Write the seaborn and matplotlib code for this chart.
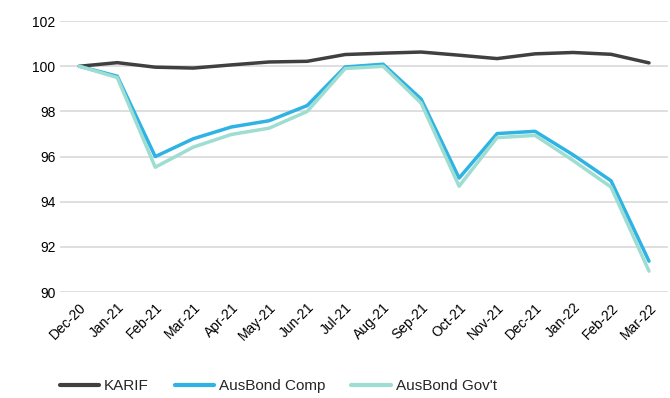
import matplotlib
matplotlib.use("Agg")
import matplotlib.pyplot as plt
import pandas as pd
import seaborn as sns

months = ["Dec-20", "Jan-21", "Feb-21", "Mar-21", "Apr-21", "May-21", "Jun-21",
          "Jul-21", "Aug-21", "Sep-21", "Oct-21", "Nov-21", "Dec-21", "Jan-22",
          "Feb-22", "Mar-22"]
karif = [100.0, 100.16, 99.96, 99.92, 100.06, 100.19, 100.22, 100.52, 100.58,
         100.63, 100.49, 100.34, 100.55, 100.61, 100.53, 100.15]
ausbond_comp = [100.0, 99.56, 96.0, 96.79, 97.31, 97.59, 98.26, 99.97, 100.09,
                98.55, 95.05, 97.02, 97.12, 96.08, 94.93, 91.37]
ausbond_govt = [100.0, 99.5, 95.53, 96.42, 96.98, 97.26, 98.0, 99.9, 100.0,
                98.37, 94.69, 96.84, 96.94, 95.83, 94.65, 90.93]
series_names = ["KARIF", "AusBond Comp", "AusBond Gov't"]
colors = ["#404040", "#2FB3E4", "#9EDDD1"]

df = pd.DataFrame({"month": months, series_names[0]: karif,
                   series_names[1]: ausbond_comp, series_names[2]: ausbond_govt})
long = df.melt(id_vars="month", var_name="series", value_name="value")
long["pos"] = long["month"].map({m: i for i, m in enumerate(months)})

sns.set_style("white")
plt.rcParams["font.family"] = ["Liberation Sans", "DejaVu Sans"]

fig = plt.figure(figsize=(6.7, 3.98), dpi=100)
ax = fig.add_axes([0.09, 0.266, 0.907, 0.681])

sns.lineplot(data=long, x="pos", y="value", hue="series", hue_order=series_names,
             palette=colors, linewidth=2.5, ax=ax, legend=False)

ax.set_ylim(90, 102)
ax.set_xlim(-0.5, len(months) - 0.5)
ax.set_yticks(range(90, 103, 2))
ax.set_xticks(range(len(months)))
ax.set_xticklabels(months, rotation=45, ha="right", rotation_mode="anchor")
ax.tick_params(axis="both", labelsize=10, colors="#000000", length=0)
ax.tick_params(axis="x", pad=6)
ax.set_xlabel("")
ax.set_ylabel("")
ax.grid(axis="y", color="#D9D9D9", linewidth=1.2)
ax.set_axisbelow(True)
for s in ax.spines.values():
    s.set_visible(False)

handles = [plt.Line2D([], [], color=c, linewidth=3) for c in colors]
fig.legend(handles, series_names, loc="center", bbox_to_anchor=(0.415, 0.03),
           ncol=3, frameon=False, fontsize=11, handlelength=2.6,
           columnspacing=1.7, handletextpad=0.3)

fig.savefig("out.png", dpi=100)
